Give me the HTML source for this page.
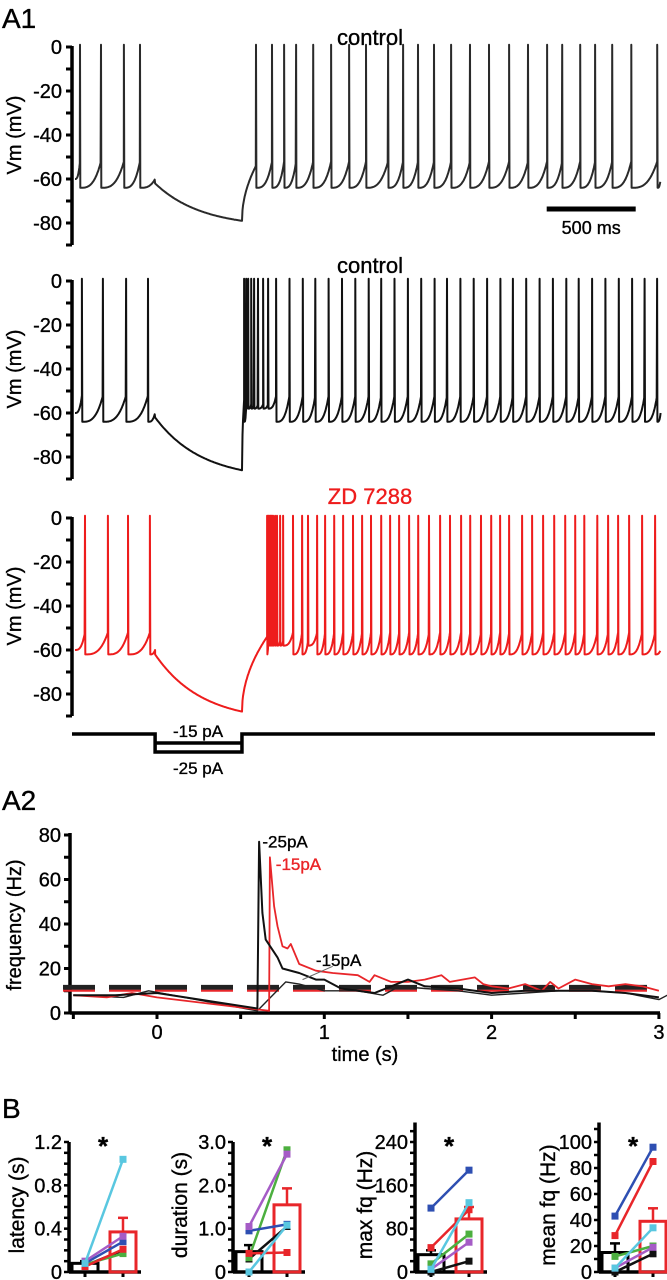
<!DOCTYPE html>
<html><head><meta charset="utf-8">
<style>
html,body{margin:0;padding:0;background:#fff;}
svg{display:block;font-family:"Liberation Sans",Arial,sans-serif;}
svg text{stroke:#000;stroke-width:0.35px;}
svg text.red{stroke:#ee1c1c;}
</style></head>
<body>
<svg id="fig" width="667" height="1280" viewBox="0 0 667 1280">
<text x="2" y="28" font-size="28">A1</text>
<text x="2" y="810" font-size="28">A2</text>
<text x="2" y="1118" font-size="28">B</text>
<g id="traces"></g>
<g id="a2"></g>
<g id="bpanels"></g>
</svg>
<script>
// ---------- A1 data (times in ms, Vm in mV) ----------
const spikes1 = [28,146,275,365,1017,1107,1175,1242,1338,1439,1540,1635,1759,1843,1927,2017,2113,2219,2326,2439,2545,2652,2737,2838,2922,3018,3125,3271];
const spikes2 = [39,157,287,410,950,962,973,990,1006,1028,1057,1085,1130,1205,1280,1350,1425,1500,1575,1650,1720,1795,1870,1945,2020,2090,2165,2240,2315,2390,2460,2535,2610,2685,2760,2830,2905,2980,3055,3130,3200,3270];
const spikes3 = [56,185,298,421,1079,1085,1090,1096,1101,1107,1113,1124,1135,1152,1169,1225,1276,1309,1360,1405,1456,1506,1562,1613,1663,1720,1770,1821,1877,1928,1989,2051,2107,2169,2220,2281,2338,2388,2439,2512,2568,2630,2692,2754,2810,2861,2934,2995,3051,3113,3186,3259];
const hypMin = [-79, -86, -88];
const troughs = [-64, -64, -62];
const stepStart = 450, stepEnd = 938;
const vmTicks = [0,-20,-40,-60,-80];

// ---------- A2 data ----------
const tBlack25 = [-0.5,-0.25,0,0.6,0.61,0.63,0.65,0.72,0.75,0.85,0.95,1.0,1.1,1.3,1.5,1.6,1.8,2.0,2.2,2.4,2.6,2.8,3.0];
const fBlack25 = [8,8,9,2,77,45,33,25,20,18,15,15,11,9,15,12,11,9,10,10,10,9,7];
const tRed15 = [-0.5,-0.3,-0.15,0,0.67,0.675,0.7,0.72,0.75,0.78,0.8,0.85,0.95,1.05,1.2,1.27,1.3,1.4,1.5,1.6,1.7,1.75,1.9,1.95,2.0,2.1,2.2,2.3,2.35,2.4,2.5,2.6,2.7,2.8,2.9,3.0];
const fRed15 = [8,7,9,7,1,70,48,39,30,29,31,22,19,18,17,14,17,14,14,15,17,14,16,13,12,11,13,10,14,11,15,13,12,13,12,10];
const tBlack15 = [-0.5,-0.2,-0.05,0.6,0.77,0.85,1.0,1.2,1.35,1.45,1.6,1.8,2.0,2.2,2.4,2.6,2.8,3.0,3.05];
const fBlack15 = [8,7,10,1,14,13,10,10,8,12,11,10,8,9,10,10,9,6,8];
const baseBlack = 11.5, baseRed = 10;
const a2YTicks = [0,20,40,60,80];
const a2XTicks = [0,1,2,3];

// ---------- B data ----------
const bTitles = ["latency (s)","duration (s)","max fq (Hz)","mean fq (Hz)"];
const bMax = [1.2, 3.0, 276, 115];
const bTicks = [[0,0.4,0.8,1.2],[0,1.0,2.0,3.0],[0,80,160,240],[0,20,40,60,80,100]];
const bTickLabels = [["0","0.4","0.8","1.2"],["0","1.0","2.0","3.0"],["0","80","160","240"],["0","20","40","60","80","100"]];
const bMinor = [0.1, 0.25, 20, 10];
const bBarCtrl = [0.08, 0.47, 32, 15];
const bErrCtrl = [0.10, 0.62, 40, 22];
const bBarZD = [0.37, 1.55, 98, 39];
const bErrZD = [0.50, 1.93, 120, 49];
const cellColors = ["#59c7e0","#a55cc6","#2e4fb2","#e8262a","#4caf3f","#111111"];
const latencyCtrl = [0.08,0.10,0.08,0.05,0.07,0.06];
const latencyZD   = [1.04,0.33,0.28,0.21,0.17,0.20];
const durationCtrl = [0.0,1.05,0.95,0.43,0.33,0.30];
const durationZD   = [1.08,2.72,1.10,0.45,2.82,1.05];
const maxCtrl = [5,5,118,45,15,0];
const maxZD   = [128,55,188,115,70,20];
const meanCtrl = [3,3,43,28,12,0];
const meanZD   = [34,19,96,85,20,14];
const bCtrlVals = [latencyCtrl,durationCtrl,maxCtrl,meanCtrl];
const bZDVals = [latencyZD,durationZD,maxZD,meanZD];

const NS="http://www.w3.org/2000/svg";
function mk(tag, attrs, parent){const e=document.createElementNS(NS,tag);for(const k in attrs)e.setAttribute(k,attrs[k]);parent.appendChild(e);return e;}

// ================= A1 traces =================
const tr = document.getElementById('traces');
const panelY0 = [47, 281, 518];
const titles = ["control","control","ZD 7288"];
const titleY = [45, 273, 504];
const colors = ["#2a2a2a","#111111","#ee1c1c"];
const allSpikes = [spikes1, spikes2, spikes3];
const xOf = t => 75 + t*0.178;
function buildTrace(spk, vmin, tr0){
  const pts=[]; const V=-62;
  const pre=spk.filter(s=>s<stepStart), post=spk.filter(s=>s>stepEnd);
  function ramp(a,b,v0,v1){for(let t=a;t<=b;t+=3){const f=(t-a)/(b-a);pts.push([t,v0+(v1-v0)*Math.pow(f,3)]);}}
  let last=0, lv=-60;
  pts.push([0,-60]);
  pre.forEach(s=>{ramp(last,s,lv,-52);pts.push([s,1]);pts.push([s+2,tr0]);last=s+2;lv=tr0;});
  ramp(last,stepStart,lv,V+2);
  const tau=260;const D=1-Math.exp(-(stepEnd-stepStart)/tau);
  for(let t=stepStart;t<=stepEnd;t+=4){const f=(1-Math.exp(-(t-stepStart)/tau))/D;pts.push([t,V+(vmin-V)*f]);}
  const f0=post[0];
  for(let t=stepEnd;t<=f0;t+=3){const f=(t-stepEnd)/(f0-stepEnd);pts.push([t,vmin+(-54-vmin)*Math.sqrt(f)]);}
  last=f0; pts.push([f0,1]);pts.push([f0+2,tr0]);last=f0+2;lv=tr0;
  post.slice(1).forEach(s=>{const gap=s-last;const top=gap<40?-56:-52;ramp(last,s,lv,top);pts.push([s,1]);pts.push([s+2,gap<40?-58:tr0]);last=s+2;lv=gap<40?-58:tr0;});
  ramp(last,3290,lv,-60);
  return pts;
}
for(let p=0;p<3;p++){
  const y0=panelY0[p]; const yOf=v=>y0 - v*2.2;
  const g=mk('g',{},tr);
  
  
  const tt=mk('text',{x:370,y:titleY[p],'font-size':22,'text-anchor':'middle',fill:p==2?'#ee1c1c':'#000'},g);
  if(p==2) tt.setAttribute('class','red');
  tt.textContent=titles[p];
  
  
  const ax=mk('line',{x1:72,y1:yOf(0)-1,x2:72,y2:yOf(-90),stroke:'#000','stroke-width':3.5},g);
  
  
  for(let v=0;v>=-90;v-=10){mk('line',{x1:66,y1:yOf(v),x2:72,y2:yOf(v),stroke:'#000','stroke-width':3},g);}
  vmTicks.forEach(v=>{const t=mk('text',{x:62,y:yOf(v)+7,'font-size':20,'text-anchor':'end'},g);t.textContent=v;
    
    });
  const yl=mk('text',{x:0,y:0,'font-size':20,'text-anchor':'middle',transform:`translate(21,${yOf(-40)}) rotate(-90)`},g);
  yl.textContent='Vm (mV)';
  
  
  const pts=buildTrace(allSpikes[p],hypMin[p],troughs[p]);
  const d=pts.map((q,i)=>(i?'L':'M')+xOf(q[0]).toFixed(1)+' '+yOf(q[1]).toFixed(1)).join('');
  const path=mk('path',{d:d,fill:'none',stroke:colors[p],'stroke-width':2,'stroke-linejoin':'round'},g);
  
  
}
// scale bar
const sb=mk('line',{x1:xOf(2650),y1:209,x2:xOf(3150),y2:209,stroke:'#000','stroke-width':5},tr);


const sbt=mk('text',{x:(xOf(2650)+xOf(3150))/2,y:234,'font-size':18,'text-anchor':'middle'},tr);
sbt.textContent='500 ms';


// current step
const cs=mk('path',{d:`M72 734 H${xOf(stepStart)} V752 H${xOf(stepEnd)} V734 H655 M${xOf(stepStart)} 743 H${xOf(stepEnd)}`,fill:'none',stroke:'#000','stroke-width':3.5},tr);


const c1=mk('text',{x:198,y:737,'font-size':17,'text-anchor':'middle'},tr);c1.textContent='-15 pA';


const c2=mk('text',{x:198,y:774,'font-size':17,'text-anchor':'middle'},tr);c2.textContent='-25 pA';



// ================= A2 =================
const a2=document.getElementById('a2');
const ax2=t=>157+t*167.3, ay2=f=>1013-f*2.225;
mk('line',{x1:70,y1:1013,x2:660,y2:1013,stroke:'#000','stroke-width':3.5},a2);
mk('line',{x1:70,y1:ay2(80)-2,x2:70,y2:1014,stroke:'#000','stroke-width':3.5},a2);
for(let f=0;f<=80;f+=10)mk('line',{x1:64,y1:ay2(f),x2:70,y2:ay2(f),stroke:'#000','stroke-width':3},a2);
a2YTicks.forEach(f=>{const t=mk('text',{x:61,y:ay2(f)+7,'font-size':20,'text-anchor':'end'},a2);t.textContent=f;
  
  });
for(let t=-0.5;t<=3.01;t+=0.5)mk('line',{x1:ax2(t),y1:1013,x2:ax2(t),y2:1019,stroke:'#000','stroke-width':3},a2);
a2XTicks.forEach(v=>{const t=mk('text',{x:ax2(v),y:1039,'font-size':20,'text-anchor':'middle'},a2);t.textContent=v;
  
  });
const xt=mk('text',{x:365,y:1061,'font-size':20,'text-anchor':'middle'},a2);xt.textContent='time (s)';


const yt=mk('text',{x:0,y:0,'font-size':20,'text-anchor':'middle',transform:'translate(21,925) rotate(-90)'},a2);yt.textContent='frequency (Hz)';


const dB=mk('line',{x1:63,y1:ay2(baseBlack),x2:660,y2:ay2(baseBlack),stroke:'#222','stroke-width':5,'stroke-dasharray':'32 14'},a2);


const dR=mk('line',{x1:63,y1:ay2(baseRed),x2:660,y2:ay2(baseRed),stroke:'#e8262a','stroke-width':2,'stroke-dasharray':'32 14'},a2);


function line2(ts,fs,col,w,name){const d=ts.map((t,i)=>(i?'L':'M')+ax2(t).toFixed(1)+' '+ay2(fs[i]).toFixed(1)).join('');
  const p=mk('path',{d:d,fill:'none',stroke:col,'stroke-width':w,'stroke-linejoin':'round'},a2);
  
  }
line2(tBlack15,fBlack15,'#222',1.4,'series-control-15pa');
line2(tRed15,fRed15,'#e8262a',1.8,'series-zd-15pa');
line2(tBlack25,fBlack25,'#111',2,'series-control-25pa');
const l1=mk('text',{x:ax2(0.63),y:ay2(77)+6,'font-size':17},a2);l1.textContent='-25pA';


const l2=mk('text',{x:ax2(0.71),y:ay2(67)+6,'font-size':17,fill:'#e8262a','class':'red'},a2);l2.textContent='-15pA';


mk('line',{x1:ax2(0.87),y1:ay2(15),x2:ax2(1.05),y2:ay2(21),stroke:'#666','stroke-width':1},a2);
const l3=mk('text',{x:ax2(0.95),y:ay2(22)+2,'font-size':17},a2);l3.textContent='-15pA';



// ================= B =================
const bp=document.getElementById('bpanels');
const bAxisX=[69,233,415,599], bLabelX=[17,180,365,548];
const by0=1272, byTop=1142;
for(let k=0;k<4;k++){
  const g=mk('g',{},bp);
  
  
  const X=bAxisX[k];
  const h=(by0-byTop)*(bMax[k]/bTicks[k][bTicks[k].length-1]);
  const yS=v=>by0 - v/bMax[k]*h;
  const xc=X+16, xz=X+54;
  mk('line',{x1:X,y1:yS(bMax[k]),x2:X,y2:by0+1,stroke:'#000','stroke-width':3.5},g);
  mk('line',{x1:X,y1:by0,x2:X+72,y2:by0,stroke:'#000','stroke-width':3.5},g);
  mk('line',{x1:xc,y1:by0,x2:xc,y2:by0+5,stroke:'#000','stroke-width':3},g);
  mk('line',{x1:xz,y1:by0,x2:xz,y2:by0+5,stroke:'#000','stroke-width':3},g);
  for(let v=0;v<=bMax[k]+1e-9;v+=bMinor[k])mk('line',{x1:X-5,y1:yS(v),x2:X,y2:yS(v),stroke:'#000','stroke-width':2.5},g);
  bTicks[k].forEach((v,i)=>{const t=mk('text',{x:X-7,y:yS(v)+7,'font-size':20,'text-anchor':'end'},g);t.textContent=bTickLabels[k][i];
    
    });
  const tl=mk('text',{x:0,y:0,'font-size':21,'text-anchor':'middle',transform:`translate(${bLabelX[k]+7},1205) rotate(-90)`},g);tl.textContent=bTitles[k];
  
  
  const st=mk('text',{x:X+34,y:1155,'font-size':26,'text-anchor':'middle','font-weight':'bold'},g);st.textContent='*';
  
  
  mk('line',{x1:xc,y1:yS(bBarCtrl[k]),x2:xc,y2:yS(bErrCtrl[k]),stroke:'#000','stroke-width':2.5},g);
  mk('line',{x1:xc-5,y1:yS(bErrCtrl[k]),x2:xc+5,y2:yS(bErrCtrl[k]),stroke:'#000','stroke-width':2.5},g);
  const bc=mk('rect',{x:xc-13,y:yS(bBarCtrl[k]),width:26,height:by0-yS(bBarCtrl[k]),fill:'none',stroke:'#000','stroke-width':3},g);
  
  
  mk('line',{x1:xz,y1:yS(bBarZD[k]),x2:xz,y2:yS(bErrZD[k]),stroke:'#e8262a','stroke-width':2.5},g);
  mk('line',{x1:xz-5,y1:yS(bErrZD[k]),x2:xz+5,y2:yS(bErrZD[k]),stroke:'#e8262a','stroke-width':2.5},g);
  const bz=mk('rect',{x:xz-13,y:yS(bBarZD[k]),width:26,height:by0-yS(bBarZD[k]),fill:'none',stroke:'#e8262a','stroke-width':3},g);
  
  
  for(let c=cellColors.length-1;c>=0;c--){
    const a=bCtrlVals[k][c], b=bZDVals[k][c];
    const ln=mk('line',{x1:xc,y1:yS(a),x2:xz,y2:yS(b),stroke:cellColors[c],'stroke-width':2.5},g);
    
    
    [[xc,a],[xz,b]].forEach(q=>{const r=mk('rect',{x:q[0]-3.5,y:yS(q[1])-3.5,width:7,height:7,fill:cellColors[c]},g);
      
      });
  }
}
</script>
</body></html>
